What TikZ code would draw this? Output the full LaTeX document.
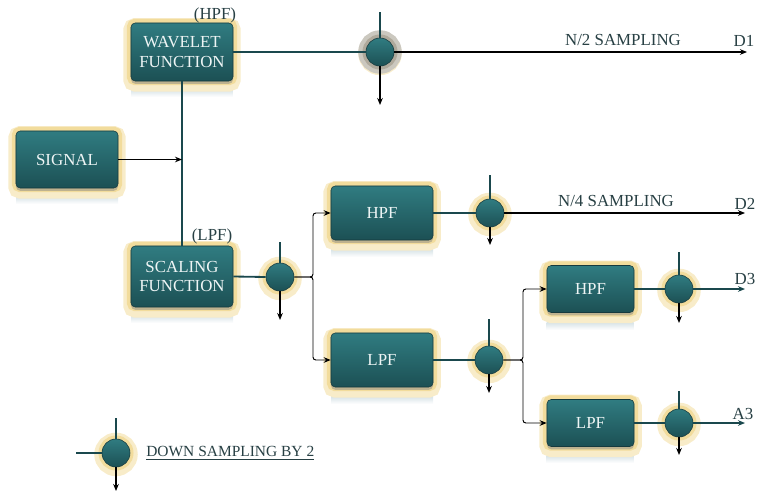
\documentclass[tikz,border=0pt]{standalone}
\usepackage{fontspec}
\setmainfont{Liberation Serif}
\usepackage{tikz}
\usetikzlibrary{positioning, arrows.meta, shadows}

\definecolor{boxtop}{RGB}{48,124,129}
\definecolor{boxbot}{RGB}{28,80,84}
\definecolor{edgec}{RGB}{22,58,62}
\definecolor{glowc}{RGB}{242,220,156}
\definecolor{darkglow}{RGB}{140,132,112}
\definecolor{wirec}{RGB}{26,72,77}
\definecolor{labelc}{RGB}{40,64,68}
\definecolor{reflc}{RGB}{214,226,230}

\begin{document}
\begin{tikzpicture}[
    x=0.025cm, y=-0.025cm,
    >={Stealth[length=5pt, width=4pt]},
    box/.style={rectangle, rounded corners=3pt, draw=edgec, top color=boxtop, bottom color=boxbot,
        text=white!92!boxtop, font=\fontsize{12}{14}\selectfont, align=center, inner sep=0pt,
        preaction={draw=glowc!55, line width=11pt, rounded corners=6pt, transform canvas={yshift=-2pt}},
        preaction={draw=glowc, line width=6pt, rounded corners=5pt},
        drop shadow={shadow xshift=0pt, shadow yshift=-2pt, opacity=0.45}},
    dsnode/.style={circle, draw=edgec, top color=boxtop, bottom color=boxbot, minimum size=0.7cm, inner sep=0pt,
        preaction={draw=glowc!55, line width=11pt, transform canvas={yshift=-1pt}},
        preaction={draw=glowc, line width=5pt}},
    dsdark/.style={dsnode, preaction={draw=darkglow!45, line width=11pt}, preaction={draw=darkglow!70, line width=5pt}},
    wire/.style={draw=wirec, line width=1.3pt},
    outarr/.style={->, line width=1.1pt},
    branch/.style={->, line width=0.7pt, rounded corners=2pt},
    lbl/.style={font=\fontsize{12}{14}\selectfont, text=labelc, inner sep=0pt}
]
\useasboundingbox (0,0) rectangle (757,493);

% reflections under the boxes
\foreach \x/\y/\w in {67/196/102, 182/89/101, 182/315/102, 382/249/102, 382/396/102, 590/322/87, 590/455/87} {
    \shade[top color=reflc, bottom color=white] (\x-\w/2,\y) rectangle (\x+\w/2,\y+8);
}

% filter boxes
\node[box, minimum width=2.55cm, minimum height=1.425cm] (signal) at (67,159.5) {SIGNAL};
\node[box, minimum width=2.55cm, minimum height=1.45cm] (wave) at (182,52) {WAVELET\\FUNCTION};
\node[box, minimum width=2.55cm, minimum height=1.525cm] (scale) at (182,276.5) {SCALING\\FUNCTION};
\node[box, minimum width=2.55cm, minimum height=1.35cm] (hpfA) at (382,213) {HPF};
\node[box, minimum width=2.55cm, minimum height=1.35cm] (lpfA) at (382,360) {LPF};
\node[box, minimum width=2.175cm, minimum height=1.175cm] (hpfB) at (590.5,289) {HPF};
\node[box, minimum width=2.175cm, minimum height=1.175cm] (lpfB) at (590.5,423) {LPF};

\node[lbl] (hpflbl) at (215,15) {(HPF)};
\node[lbl] (lpflbl) at (212,236) {(LPF)};

% down sampling circles
\node[dsdark] (dsA) at (380,52) {};
\foreach \n/\x/\y in {dsB/280/277, dsC/490/213, dsD/489/360, dsE/679/289, dsF/679/423, dsK/116/453} {
    \node[dsnode] (\n) at (\x,\y) {};
}

% ticks above and arrows below each circle
\foreach \n/\x/\t/\b in {dsA/380/12/105, dsB/280/242/320, dsC/490/175/245, dsD/489/319/393, dsE/679/252/323, dsF/679/391/455, dsK/116/418/491} {
    \coordinate (\n-top) at (\x,\t);
    \coordinate (\n-bot) at (\x,\b);
    \draw[wire] (\n-top) -- (\n.north);
    \draw[->, line width=1.1pt] (\n.south) -- (\n-bot);
}

% connections
\coordinate (join) at (182,159.5);
\draw[wire] (wave.south) -- (scale.north);
\draw[->, line width=1.1pt] (signal.east) -- (join);
\draw[wire] (wave.east) -- (dsA.west);
\draw[wire] (scale.east) -- (dsB.west);
\draw[wire] (hpfA.east) -- (dsC.west);
\draw[wire] (lpfA.east) -- (dsD.west);
\draw[wire] (hpfB.east) -- (dsE.west);
\draw[wire] (lpfB.east) -- (dsF.west);

\coordinate (forkA) at (313,277);
\coordinate (forkB) at (523,360);
\draw[branch] (dsB.east) -- (forkA) |- (hpfA.west);
\draw[branch] (dsB.east) -- (forkA) |- (lpfA.west);
\draw[branch] (dsD.east) -- (forkB) |- (hpfB.west);
\draw[branch] (dsD.east) -- (forkB) |- (lpfB.west);

% outputs
\coordinate (outD1) at (747,52);
\coordinate (outD2) at (745,213);
\coordinate (outD3) at (745,289);
\coordinate (outA3) at (745,423);
\draw[outarr] (dsA.east) -- (outD1);
\draw[outarr] (dsC.east) -- (outD2);
\draw[outarr, draw=wirec] (dsE.east) -- (outD3);
\draw[outarr, draw=wirec] (dsF.east) -- (outA3);

\node[lbl] (d1) at (744,41) {D1};
\node[lbl] (d2) at (745,204) {D2};
\node[lbl] (d3) at (745,279) {D3};
\node[lbl] (a3) at (743,414) {A3};
\node[lbl] (nhalf) at (623,40) {N/2 SAMPLING};
\node[lbl] (nquart) at (616,201) {N/4 SAMPLING};

% legend
\coordinate (dsK-left) at (76,453);
\draw[wire] (dsK-left) -- (dsK.west);
\node[lbl, anchor=west, font=\fontsize{11}{13}\selectfont] (legend) at (146,453) {\underline{DOWN SAMPLING BY 2}};

\end{tikzpicture}
\end{document}
